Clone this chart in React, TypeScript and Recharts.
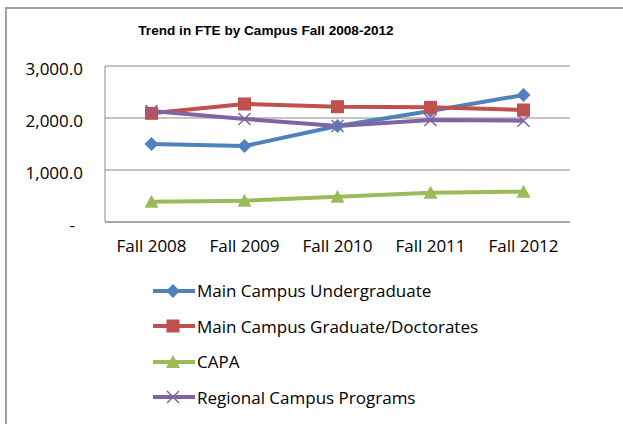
import { LineChart, Line, XAxis, YAxis, CartesianGrid } from 'recharts';

/* eslint-disable @typescript-eslint/no-explicit-any */

const categories = ['Fall 2008', 'Fall 2009', 'Fall 2010', 'Fall 2011', 'Fall 2012'];
const mainUndergrad = [1500, 1460, 1846, 2134, 2442];
const mainGradDoc = [2090, 2270, 2217, 2205, 2154];
const capa = [390, 410, 487, 563, 583];
const regional = [2134, 1981, 1846, 1962, 1948];
const yTicks = [0, 1000, 2000, 3000];

const series = [
  { key: 'ug', name: 'Main Campus Undergraduate', color: '#4F81BD', shape: 'diamond', values: mainUndergrad },
  { key: 'gd', name: 'Main Campus Graduate/Doctorates', color: '#C0504D', shape: 'square', values: mainGradDoc },
  { key: 'capa', name: 'CAPA', color: '#9BBB59', shape: 'triangle', values: capa },
  { key: 'reg', name: 'Regional Campus Programs', color: '#8064A2', shape: 'x', values: regional },
];

const chartData = categories.map((c, i) => {
  const row: any = { name: c };
  series.forEach((s) => { row[s.key] = s.values[i]; });
  return row;
});

const FONT = '"Open Sans", sans-serif';
const FS = 17;

function Marker({ cx, cy, shape, color }: any) {
  if (cx == null || cy == null) return null;
  if (shape === 'diamond') {
    const r = 7;
    return <path d={`M${cx},${cy - r}L${cx + r},${cy}L${cx},${cy + r}L${cx - r},${cy}Z`} fill={color} />;
  }
  if (shape === 'square') {
    return <rect x={cx - 6.5} y={cy - 6.5} width={13} height={13} fill={color} />;
  }
  if (shape === 'triangle') {
    return <path d={`M${cx},${cy - 7}L${cx + 7},${cy + 6}L${cx - 7},${cy + 6}Z`} fill={color} />;
  }
  const r = 6;
  return (
    <path d={`M${cx - r},${cy - r}L${cx + r},${cy + r}M${cx - r},${cy + r}L${cx + r},${cy - r}`}
      stroke={color} strokeWidth={1.5} fill="none" />
  );
}

const yTick = (props: any) => {
  const { x, y, payload } = props;
  const v = payload.value;
  const label = v === 0 ? '-' : v.toLocaleString('en-US', { minimumFractionDigits: 1 });
  return (
    <text x={v === 0 ? x - 8 : x} y={y + 2} textAnchor="end" dominantBaseline="central"
      fontFamily={FONT} fontSize={FS} fill="#000">{label}</text>
  );
};

const xTick = (props: any) => {
  const { x, y, payload } = props;
  return (
    <text x={x} y={y + 15} textAnchor="middle" dominantBaseline="central"
      fontFamily={FONT} fontSize={FS} fill="#000">{payload.value}</text>
  );
};

export default function App() {
  return (
    <div style={{ position: 'absolute', left: 0, top: 0, width: 623, height: 424, overflow: 'hidden', background: '#fff' }}>
      <div style={{ position: 'absolute', left: 5, top: 7, width: 700, height: 500, border: '2px solid #a0a0a0' }} />
      <div style={{
        position: 'absolute', left: 0, top: 23, width: 532, textAlign: 'center',
        fontFamily: 'Liberation Sans, Arial, sans-serif', fontWeight: 'bold', fontSize: 13.6, color: '#000',
      }}>
        Trend in FTE by Campus Fall 2008-2012
      </div>
      <div style={{ position: 'absolute', left: 0, top: 0 }}>
        <LineChart width={623} height={424} data={chartData}
          margin={{ top: 66, right: 53, bottom: 172, left: 0 }}>
          <CartesianGrid horizontal vertical={false} stroke="#8a8a8a" />
          <XAxis dataKey="name" height={30} axisLine={{ stroke: '#8a8a8a' }} tickLine={false}
            tick={xTick} interval={0} padding={{ left: 46.5, right: 46.5 }} />
          <YAxis width={105} domain={[0, 3000]} ticks={yTicks} axisLine={{ stroke: '#8a8a8a' }}
            tickLine={false} tickSize={0} tickMargin={22} tick={yTick} />
          {series.map((s) => (
            <Line key={s.key} dataKey={s.key} name={s.name} stroke={s.color} strokeWidth={4}
              isAnimationActive={false}
              dot={(p: any) => <Marker key={`${s.key}-${p.index}`} cx={p.cx} cy={p.cy} shape={s.shape} color={s.color} />}
              activeDot={false} />
          ))}
        </LineChart>
      </div>
      <div style={{ position: 'absolute', left: 153, top: 273 }}>
        {series.map((s) => (
          <div key={s.key} style={{ display: 'flex', alignItems: 'center', height: 35.5 }}>
            <svg width={42} height={16} style={{ marginRight: 2 }}>
              <line x1={0} y1={8} x2={42} y2={8} stroke={s.color} strokeWidth={4} />
              <Marker cx={20} cy={8} shape={s.shape} color={s.color} />
            </svg>
            <span style={{ fontFamily: FONT, fontSize: FS, color: '#000' }}>{s.name}</span>
          </div>
        ))}
      </div>
    </div>
  );
}
